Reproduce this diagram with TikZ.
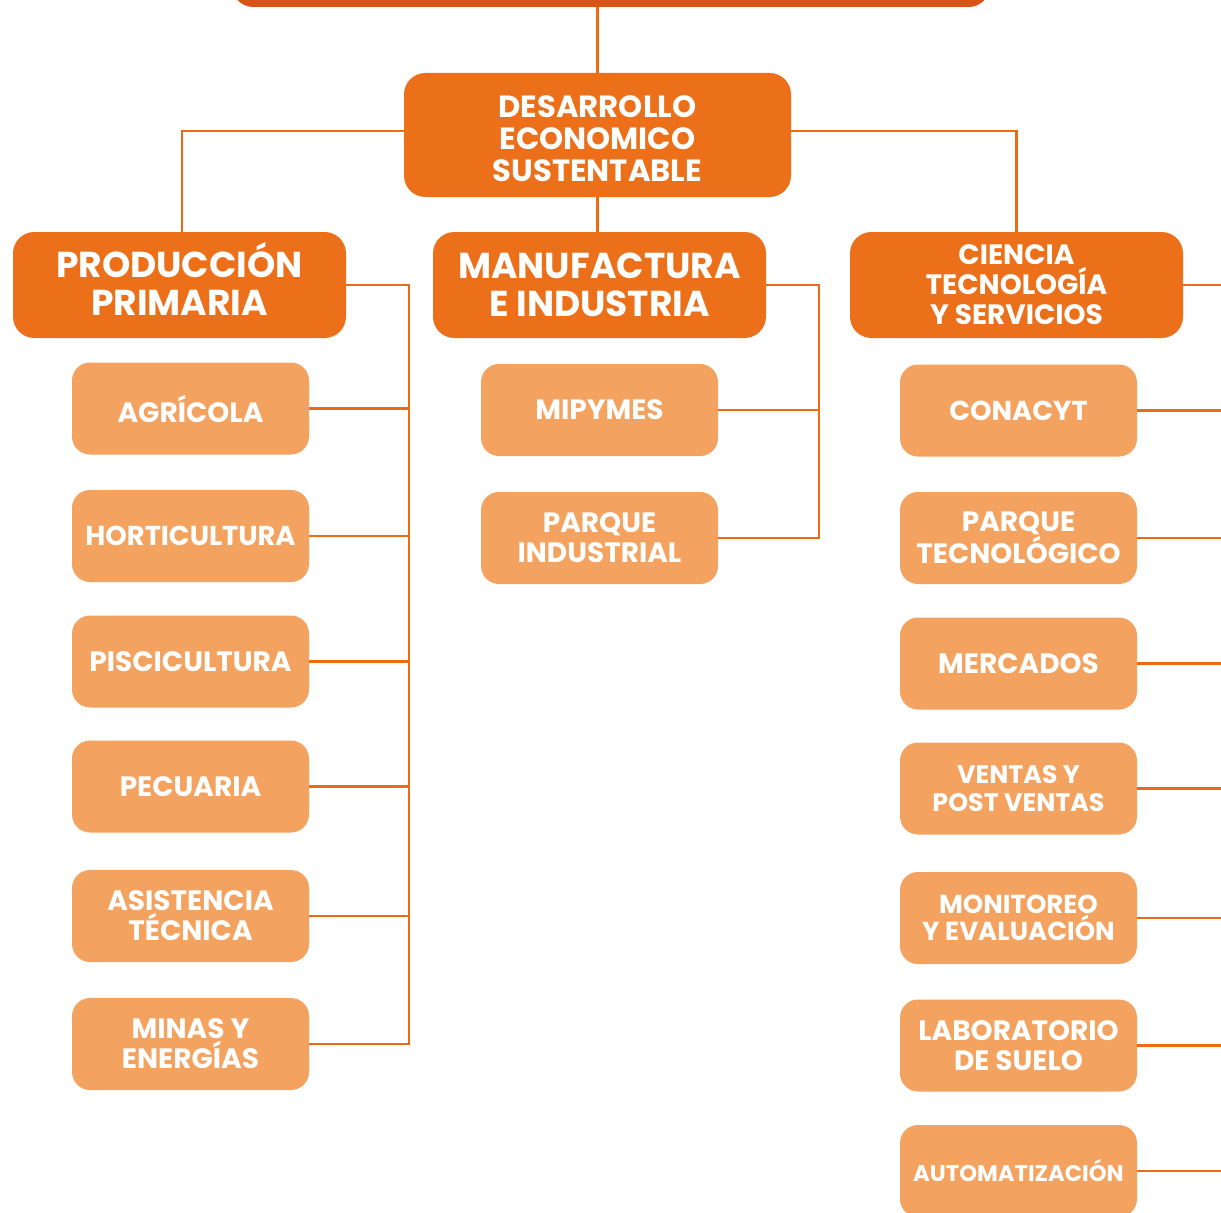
\documentclass[tikz,border=0pt]{standalone}
\usepackage{fontspec}
\setmainfont{Poppins}
\definecolor{topc}{HTML}{D95316}
\definecolor{darkc}{HTML}{EC7019}
\definecolor{lightc}{HTML}{F3A35F}
\definecolor{linec}{HTML}{EC6A12}
\tikzset{
  mainbox/.style={fill=darkc, rounded corners=16pt, text=white, align=center, inner sep=0pt},
  childbox/.style={fill=lightc, rounded corners=13.5pt, text=white, align=center, inner sep=0pt, minimum width=177.75pt, minimum height=69pt},
  fsz/.style 2 args={font={\bfseries\fontsize{#1}{#2}\selectfont}},
  lbl/.style={text=white, align=center, inner sep=0pt},
  conn/.style={draw=linec, line width=1.8pt}
}
\begin{document}
\begin{tikzpicture}[x=0.75pt,y=-0.75pt]
\useasboundingbox (0,0) rectangle (1221,1213);
% top box (cut off)
\node[fill=topc, rounded corners=16pt, minimum width=568.5pt, minimum height=60pt, inner sep=0pt] (TOP) at (611,-33) {};
% level 1
\node[mainbox, minimum width=290.25pt, minimum height=93pt,
  label={[lbl, fsz={23}{24}, yshift=-3pt]center:{DESARROLLO\\ECONOMICO\\SUSTENTABLE}}] (DES) at (597.5,135) {};
% level 2
\node[mainbox, minimum width=249.75pt, minimum height=79.5pt,
  label={[lbl, fsz={27}{28.5}, yshift=4.5pt]center:{PRODUCCIÓN\\PRIMARIA}}] (PP) at (179.5,285) {};
\node[mainbox, fsz={27}{28.5}, minimum width=249.75pt, minimum height=79.5pt] (MI) at (599.5,285) {MANUFACTURA\\E INDUSTRIA};
\node[mainbox, fsz={21}{22.5}, minimum width=249.75pt, minimum height=79.5pt] (CT) at (1016.5,285) {CIENCIA\\TECNOLOGÍA\\Y SERVICIOS};
% PP children
\node[childbox, fsz={21}{22.5}] (AGR) at (190.5,408.5) {AGRÍCOLA};
\node[childbox, fsz={20.5}{22.5}] (HOR) at (190.5,536) {HORTICULTURA};
\node[childbox, fsz={21}{22.5}] (PIS) at (190.5,661.5) {PISCICULTURA};
\node[childbox, fsz={21}{22.5}] (PEC) at (190.5,786.5) {PECUARIA};
\node[childbox, fsz={21}{22.5}] (ASI) at (190.5,916) {ASISTENCIA\\TÉCNICA};
\node[childbox, fsz={21}{22.5}] (MIN) at (190.5,1044) {MINAS Y\\ENERGÍAS};
% MI children
\node[childbox, fsz={21}{22.5}] (MIP) at (599.5,410) {MIPYMES};
\node[childbox, fsz={21}{22.5}] (PAI) at (599.5,538) {PARQUE\\INDUSTRIAL};
% CT children
\node[childbox, fsz={20.5}{22.5}] (CON) at (1018.5,410.5) {CONACYT};
\node[childbox, fsz={21}{23}] (PAT) at (1018.5,538) {PARQUE\\TECNOLÓGICO};
\node[childbox, fsz={21}{22.5}] (MER) at (1018.5,663.5) {MERCADOS};
\node[childbox, fsz={19}{20.5}] (VEN) at (1018.5,788.5) {VENTAS Y\\POST VENTAS};
\node[childbox, fsz={19.5}{20.5}] (MON) at (1018.5,918) {MONITOREO\\Y EVALUACIÓN};
\node[childbox, fsz={21}{22.5}] (LAB) at (1018.5,1045.5) {LABORATORIO\\DE SUELO};
\node[childbox, fsz={17}{20}] (AUT) at (1018.5,1171) {AUTOMATIZACIÓN};
% bus coordinates
\coordinate (bl) at (409,0);
\coordinate (bm) at (819,0);
\coordinate (br) at (1221,0);
% top connectors
\draw[conn] (DES.north |- TOP.south) -- (DES.north);
\draw[conn] ([yshift=3pt]DES.west) -| ([xshift=2pt]PP.north);
\draw[conn] ([yshift=3pt]DES.east) -| (CT.north);
\draw[conn] (DES.south) -- (DES.south |- MI.north);
% PP bus
\draw[conn] (PP.east) -| (MIN.east -| bl) -- (MIN.east);
\foreach \c in {AGR,HOR,PIS,PEC,ASI} \draw[conn] (\c.east) -- (\c.east -| bl);
% MI bus
\draw[conn] (MI.east) -| (PAI.east -| bm) -- (PAI.east);
\draw[conn] (MIP.east) -- (MIP.east -| bm);
% CT lines
\draw[conn] (CT.east) -- (CT.east -| br);
\foreach \c in {CON,PAT,MER,VEN,MON,LAB,AUT} \draw[conn] (\c.east) -- (\c.east -| br);
\end{tikzpicture}
\end{document}
